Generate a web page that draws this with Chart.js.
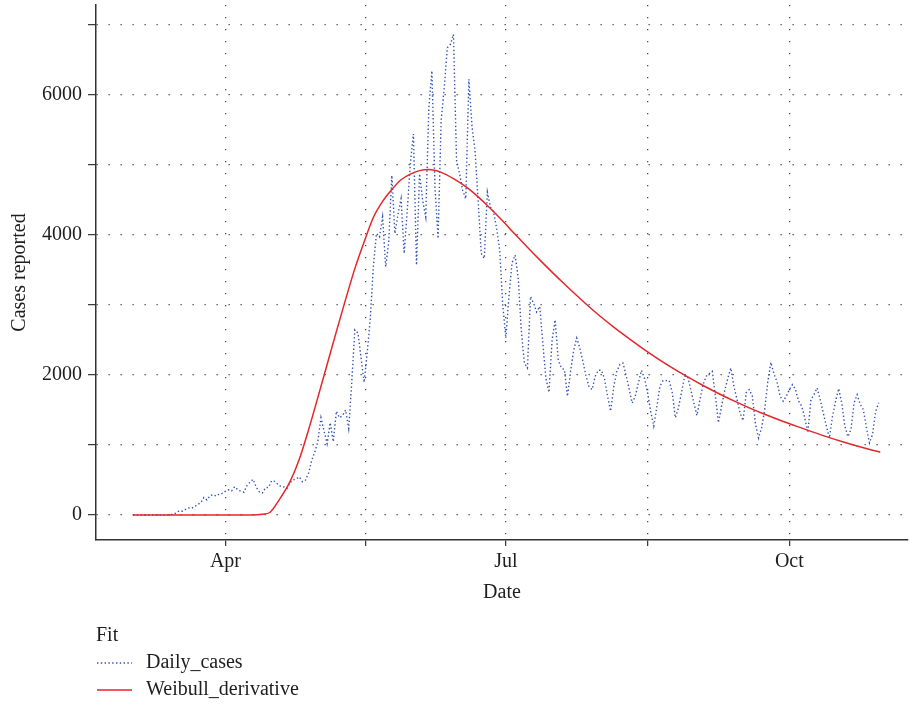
<!DOCTYPE html>
<html>
<head>
<meta charset="utf-8">
<script src="https://cdn.jsdelivr.net/npm/chart.js@4.4.0/dist/chart.umd.min.js"></script>
<style>
  html, body { margin: 0; padding: 0; background: #fff; }
  #wrap { width: 911px; height: 705px; }
</style>
</head>
<body>
<div id="wrap"><canvas id="chart" width="911" height="705"></canvas></div>
<script>
// days are counted from 1 April
const firstDay = -30;
const dailyCases = [
  0,0,0,0,0,0,0,0,0,0,
  0,2,5,10,30,60,55,80,100,95,
  120,150,175,250,215,275,290,270,300,310,
  340,360,345,405,360,340,325,420,470,510,
  400,330,315,390,395,490,480,440,405,400,
  380,465,500,520,545,475,500,600,780,900,
  1050,1390,1200,1020,1318,1048,1483,1390,1420,1500,
  1237,1900,2645,2600,2250,1896,2314,2800,3547,4021,
  3973,4258,3547,3900,4851,4021,4300,4518,3737,4350,
  5017,5443,3570,4874,4495,4258,5807,6345,4685,3950,
  5633,6100,6676,6724,6866,5065,4874,4637,4518,6226,
  5560,5207,4500,3737,3665,4613,4400,4330,4100,3784,
  3000,2528,3120,3600,3713,3400,2645,2172,2100,3120,
  3025,2900,2978,2456,1950,1752,2500,2788,2219,2100,
  2077,1697,2050,2350,2528,2385,2195,1990,1830,1792,
  1981,2067,2067,1950,1697,1483,1830,2050,2150,2172,
  2000,1800,1600,1697,1886,2067,1950,1745,1480,1270,
  1550,1840,1920,1920,1920,1750,1390,1531,1750,1981,
  1981,1792,1603,1422,1650,1863,1981,2020,2052,1697,
  1318,1560,1768,1950,2100,1840,1650,1460,1350,1750,
  1792,1697,1300,1100,1247,1507,1900,2180,2020,1900,
  1697,1626,1697,1792,1863,1792,1626,1555,1390,1176,
  1650,1721,1816,1650,1460,1270,1100,1412,1626,1806,
  1600,1270,1119,1223,1600,1720,1579,1507,1250,1030,
  1152,1480,1603
];

const fitDays = [-30, 8, 12, 14.5, 17.5, 21, 24, 27, 30, 33, 36, 39, 42, 45, 48, 51, 54, 57, 60, 63, 66,
  70, 74, 78, 82, 86, 90, 94, 98, 102, 106, 110, 114, 118, 122, 126, 130, 135, 140, 145, 150,
  155, 160, 165, 170, 175, 180, 185, 190, 195, 200, 205, 210, 212.5];
const fitValues = [0, 0, 10, 40, 220, 480, 800, 1220, 1680, 2150, 2620, 3080, 3520, 3900, 4250, 4480, 4650, 4790, 4870, 4920, 4935,
  4895, 4805, 4690, 4545, 4380, 4200, 4010, 3825, 3645, 3470, 3300, 3135, 2975, 2825, 2685, 2552, 2392, 2242, 2102, 1972,
  1850, 1736, 1630, 1531, 1439, 1353, 1273, 1195, 1120, 1050, 985, 925, 898];

const monthTicks = [0, 91, 183];
const monthLabels = ['Apr', 'Jul', 'Oct'];
const midTicks = [-45.5, 45.5, 137, 228.5];
const yTicks = [0, 1000, 2000, 3000, 4000, 5000, 6000, 7000];

const textColor = '#1e1e1e';
const blue = '#3553b5';
const red = '#e5262b';

Chart.defaults.font.family = '"Liberation Serif", "DejaVu Serif", serif';
Chart.defaults.font.size = 20;
Chart.defaults.color = textColor;

const casePoints = dailyCases.map((v, i) => ({ x: firstDay + i, y: v }));
const fitPoints = fitDays.map((d, i) => ({ x: d, y: fitValues[i] }));

const fitLegend = {
  id: 'fitLegend',
  afterDraw(chart) {
    const ctx = chart.ctx;
    ctx.save();
    ctx.font = '20px "Liberation Serif", "DejaVu Serif", serif';
    ctx.fillStyle = textColor;
    ctx.textBaseline = 'middle';
    ctx.fillText('Fit', 96, 636);
    const rows = [chart.data.datasets[1], chart.data.datasets[0]];
    rows.forEach((ds, i) => {
      const y = 663 + i * 27;
      ctx.beginPath();
      ctx.strokeStyle = ds.borderColor;
      ctx.lineWidth = ds.borderWidth;
      ctx.setLineDash(ds.borderDash || []);
      ctx.moveTo(97, y);
      ctx.lineTo(132, y);
      ctx.stroke();
      ctx.setLineDash([]);
      ctx.fillText(ds.label, 146, y);
    });
    ctx.restore();
  }
};

const gridDots = { color: '#4a4a4a', lineWidth: 1.3, tickColor: '#333', tickWidth: 1.2 };

new Chart(document.getElementById('chart'), {
  type: 'line',
  data: {
    datasets: [
      {
        label: 'Weibull_derivative',
        data: fitPoints,
        borderColor: red,
        borderWidth: 1.5,
        pointRadius: 0,
        cubicInterpolationMode: 'monotone',
        order: 0
      },
      {
        label: 'Daily_cases',
        data: casePoints,
        borderColor: blue,
        borderWidth: 1.4,
        borderDash: [1.4, 2.4],
        pointRadius: 0,
        tension: 0,
        order: 1
      }
    ]
  },
  options: {
    responsive: false,
    animation: false,
    layout: { padding: { top: 5, right: 3, bottom: 100, left: 0 } },
    plugins: { legend: { display: false }, tooltip: { enabled: false } },
    scales: {
      x: {
        type: 'linear',
        min: -42,
        max: 221.5,
        afterBuildTicks: s => {
          s.ticks = monthTicks.concat(midTicks)
            .filter(v => v >= s.min && v <= s.max)
            .sort((a, b) => a - b)
            .map(v => ({ value: v }));
        },
        afterFit: s => {
          s.height = 65;
          s.paddingLeft = 0;
          s.paddingRight = 0;
        },
        grid: Object.assign({ tickLength: 6 }, gridDots),
        border: { color: '#333', width: 1.5, dash: [1.3, 10.7] },
        ticks: {
          autoSkip: false,
          maxRotation: 0,
          padding: 4,
          callback: v => {
            const i = monthTicks.indexOf(v);
            return i >= 0 ? monthLabels[i] : '';
          }
        },
        title: { display: true, text: 'Date', padding: { top: 0, bottom: 0 } }
      },
      y: {
        min: -357,
        max: 7286,
        afterBuildTicks: s => { s.ticks = yTicks.map(v => ({ value: v })); },
        afterFit: s => {
          s.width = 96;
          s.paddingTop = 0;
          s.paddingBottom = 0;
        },
        grid: Object.assign({ tickLength: 8 }, gridDots),
        border: { color: '#333', width: 1.5, dash: [1.3, 10.7] },
        ticks: {
          padding: 6,
          callback: v => (v % 2000 === 0 ? String(v) : '')
        },
        title: { display: true, text: 'Cases reported', padding: { top: 8, bottom: 0 } }
      }
    }
  },
  plugins: [fitLegend]
});
</script>
</body>
</html>
